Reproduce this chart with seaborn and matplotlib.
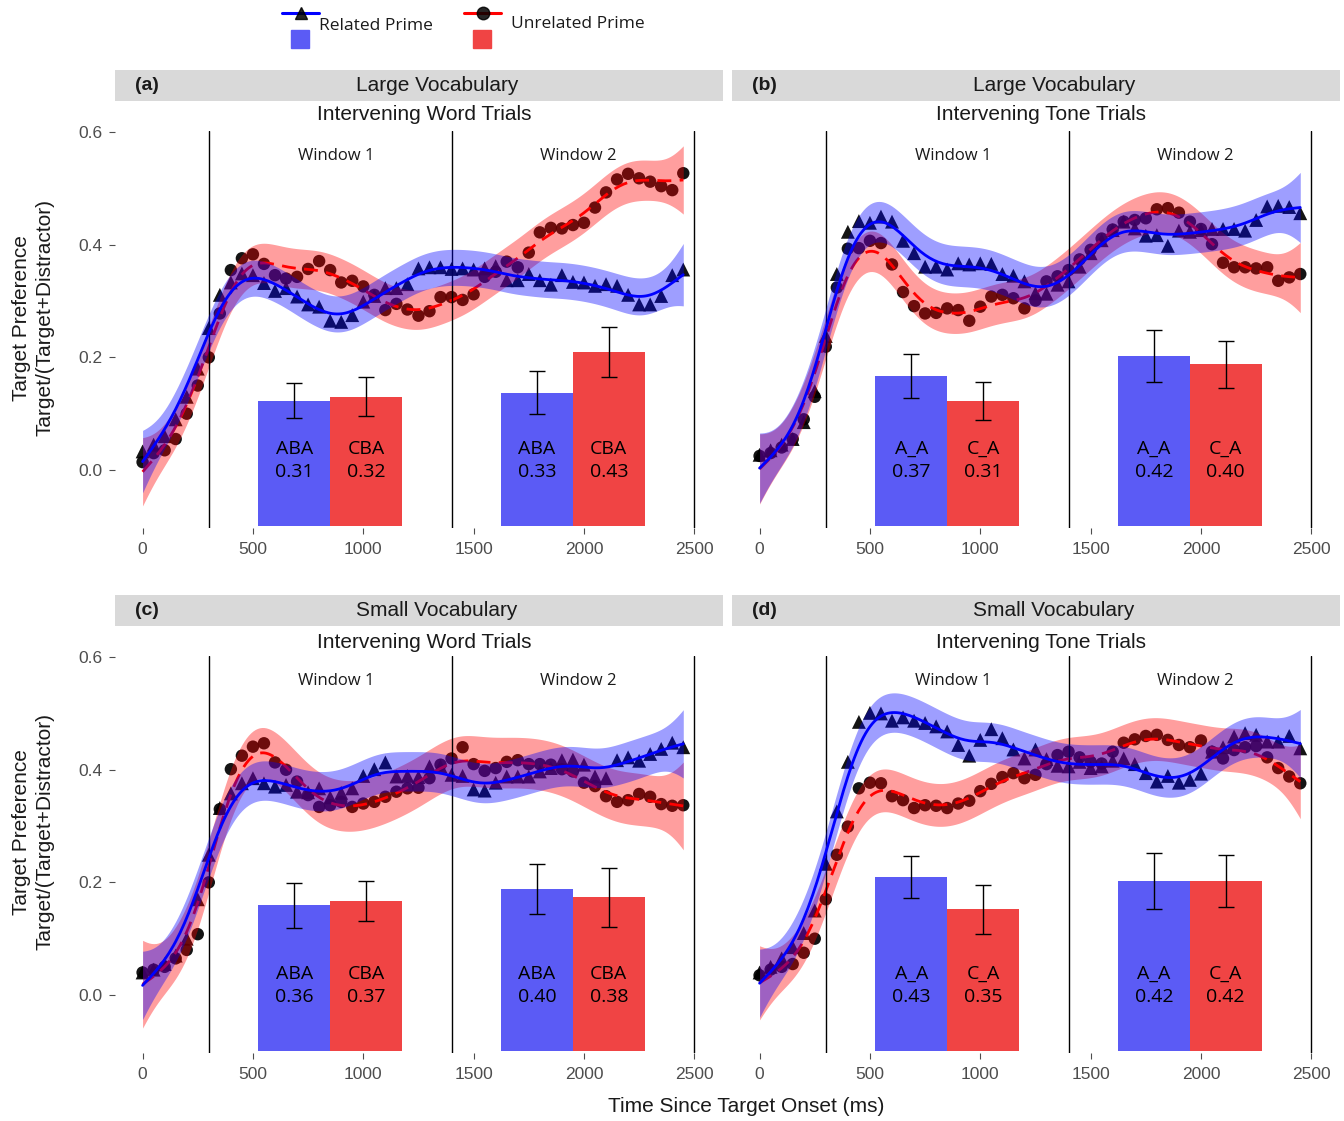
import numpy as np
import pandas as pd
import matplotlib
matplotlib.use("Agg")
import matplotlib.pyplot as plt
import seaborn as sns

# time bins (ms since target onset)
times = list(range(0, 2500, 50))

# (a) large vocabulary, intervening word trials
a_related = [0.033, 0.045, 0.06, 0.09, 0.13, 0.18, 0.252, 0.311, 0.333, 0.349,
             0.346, 0.332, 0.318, 0.323, 0.308, 0.294, 0.290, 0.265, 0.263, 0.275,
             0.299, 0.309, 0.323, 0.323, 0.330, 0.358, 0.360, 0.360, 0.357, 0.358,
             0.356, 0.358, 0.362, 0.337, 0.337, 0.348, 0.337, 0.329, 0.346, 0.334,
             0.333, 0.327, 0.330, 0.327, 0.311, 0.294, 0.294, 0.309, 0.346, 0.356]
a_unrelated = [0.014, 0.03, 0.035, 0.055, 0.10, 0.15, 0.200, 0.278, 0.355, 0.376,
               0.383, 0.366, 0.346, 0.340, 0.343, 0.357, 0.371, 0.355, 0.333, 0.336,
               0.326, 0.311, 0.284, 0.295, 0.285, 0.274, 0.282, 0.307, 0.307, 0.302,
               0.312, 0.343, 0.352, 0.370, 0.360, 0.386, 0.422, 0.430, 0.429, 0.435,
               0.439, 0.466, 0.493, 0.516, 0.526, 0.518, 0.512, 0.504, 0.497, 0.527]

# (b) large vocabulary, intervening tone trials
b_related = [0.027, 0.035, 0.045, 0.055, 0.085, 0.14, 0.238, 0.348, 0.423, 0.442,
             0.439, 0.450, 0.441, 0.407, 0.385, 0.361, 0.361, 0.356, 0.367, 0.365,
             0.367, 0.366, 0.348, 0.345, 0.335, 0.314, 0.313, 0.329, 0.335, 0.361,
             0.385, 0.408, 0.426, 0.441, 0.429, 0.416, 0.417, 0.398, 0.425, 0.423,
             0.426, 0.428, 0.428, 0.428, 0.425, 0.444, 0.468, 0.469, 0.467, 0.456]
b_unrelated = [0.025, 0.03, 0.04, 0.055, 0.09, 0.13, 0.219, 0.324, 0.393, 0.394,
               0.407, 0.403, 0.365, 0.316, 0.291, 0.278, 0.279, 0.287, 0.284, 0.265,
               0.290, 0.308, 0.311, 0.305, 0.287, 0.301, 0.335, 0.344, 0.355, 0.374,
               0.391, 0.411, 0.427, 0.441, 0.444, 0.447, 0.463, 0.465, 0.457, 0.441,
               0.428, 0.401, 0.368, 0.360, 0.360, 0.358, 0.360, 0.336, 0.342, 0.348]

# (c) small vocabulary, intervening word trials
c_related = [0.04, 0.045, 0.055, 0.07, 0.10, 0.17, 0.249, 0.332, 0.358, 0.376,
             0.385, 0.376, 0.370, 0.373, 0.361, 0.360, 0.367, 0.351, 0.359, 0.367,
             0.389, 0.401, 0.413, 0.388, 0.389, 0.387, 0.406, 0.406, 0.391, 0.389,
             0.365, 0.363, 0.377, 0.388, 0.388, 0.388, 0.397, 0.403, 0.417, 0.418,
             0.409, 0.388, 0.385, 0.417, 0.422, 0.416, 0.428, 0.437, 0.448, 0.440]
c_unrelated = [0.04, 0.045, 0.05, 0.065, 0.08, 0.108, 0.200, 0.330, 0.401, 0.425,
               0.441, 0.447, 0.413, 0.400, 0.379, 0.355, 0.334, 0.337, 0.343, 0.334,
               0.340, 0.343, 0.352, 0.361, 0.367, 0.368, 0.385, 0.409, 0.420, 0.440,
               0.410, 0.398, 0.403, 0.414, 0.417, 0.410, 0.410, 0.409, 0.401, 0.397,
               0.377, 0.371, 0.353, 0.343, 0.346, 0.357, 0.352, 0.339, 0.336, 0.337]

# (d) small vocabulary, intervening tone trials
d_related = [0.04, 0.05, 0.065, 0.085, 0.11, 0.15, 0.233, 0.326, 0.414, 0.485,
             0.501, 0.500, 0.487, 0.493, 0.487, 0.483, 0.477, 0.468, 0.444, 0.425,
             0.453, 0.472, 0.456, 0.436, 0.420, 0.436, 0.419, 0.407, 0.406, 0.414,
             0.403, 0.406, 0.416, 0.420, 0.410, 0.394, 0.379, 0.389, 0.377, 0.382,
             0.393, 0.432, 0.440, 0.459, 0.465, 0.462, 0.450, 0.450, 0.460, 0.438]
d_unrelated = [0.035, 0.045, 0.05, 0.055, 0.075, 0.10, 0.17, 0.249, 0.299, 0.367,
               0.377, 0.376, 0.353, 0.346, 0.332, 0.337, 0.336, 0.332, 0.340, 0.345,
               0.362, 0.375, 0.387, 0.394, 0.385, 0.391, 0.41, 0.426, 0.432, 0.422,
               0.414, 0.411, 0.432, 0.448, 0.454, 0.460, 0.462, 0.453, 0.444, 0.440,
               0.452, 0.432, 0.420, 0.435, 0.44, 0.442, 0.422, 0.403, 0.388, 0.376]

# confidence band half-width mid-series (related, unrelated)
ci_a = [0.032, 0.035]
ci_b = [0.036, 0.036]
ci_c = [0.035, 0.045]
ci_d = [0.035, 0.038]

# window means (related W1, unrelated W1, related W2, unrelated W2) and errors
bars_a = [0.31, 0.32, 0.33, 0.43]
errs_a = [0.043, 0.049, 0.053, 0.061]
bars_b = [0.37, 0.31, 0.42, 0.40]
errs_b = [0.054, 0.047, 0.064, 0.058]
bars_c = [0.36, 0.37, 0.40, 0.38]
errs_c = [0.055, 0.049, 0.062, 0.073]
bars_d = [0.43, 0.35, 0.42, 0.42]
errs_d = [0.051, 0.060, 0.069, 0.064]

word_conditions = ["ABA", "CBA"]
tone_conditions = ["A_A", "C_A"]
windows = [300, 1400, 2500]
window_names = ["Window 1", "Window 2"]

letters = ["(a)", "(b)", "(c)", "(d)"]
vocab = ["Large Vocabulary", "Large Vocabulary", "Small Vocabulary", "Small Vocabulary"]
trials = ["Intervening Word Trials", "Intervening Tone Trials",
          "Intervening Word Trials", "Intervening Tone Trials"]

BLUE = "#0000FF"
RED = "#FF0000"
BAR_BLUE = "#5B5BF5"
BAR_RED = "#F04444"

W, H = 1344, 1121
smooth_lambda = 7.0   # roughness penalty (per 50 ms sample)
bar_base = -0.1
bar_scale = 0.72
bar_width = 325


def smooth(t, y, step=10):
    # penalised (Whittaker) smoother evaluated on a fine grid
    t = np.asarray(t)
    y = np.asarray(y, dtype=float)
    grid = np.arange(t.min(), t.max() + step / 2, step)
    A = np.zeros((len(t), len(grid)))
    A[np.arange(len(t)), np.rint((t - grid[0]) / step).astype(int)] = 1.0
    D = np.diff(np.eye(len(grid)), n=2, axis=0)
    r = (t[1] - t[0]) / step
    M = np.linalg.inv(A.T @ A + smooth_lambda * r ** 3 * (D.T @ D))
    fit = M @ A.T @ y
    # relative standard error profile (widens towards the ends)
    shape = np.sqrt(np.clip(np.diag(M @ A.T @ A @ M), 0, None))
    return grid, fit, shape / np.median(shape)


def fig_rect(left, top, right, bottom):
    return [left / W, 1 - bottom / H, (right - left) / W, (bottom - top) / H]


def draw_panel(ax, related, unrelated, ci, bar_vals, bar_errs, conds):
    pts = pd.DataFrame({
        "time": times + times,
        "pref": related + unrelated,
        "prime": ["Related"] * len(times) + ["Unrelated"] * len(times),
    })
    sns.scatterplot(data=pts, x="time", y="pref", style="prime", size="prime",
                    markers={"Related": "^", "Unrelated": "o"},
                    sizes={"Related": 100, "Unrelated": 80},
                    color="black", linewidth=0, alpha=0.92,
                    legend=False, ax=ax, zorder=1)

    # unrelated first, related on top
    for vals, half, col, ls, z in [(unrelated, ci[1], RED, (0, (5, 3)), 2),
                                   (related, ci[0], BLUE, "-", 4)]:
        grid, fit, rel = smooth(times, vals)
        ax.fill_between(grid, fit - half * rel, fit + half * rel,
                        color=col, alpha=0.38, linewidth=0, zorder=z)
        sns.lineplot(x=grid, y=fit, color=col, linewidth=2.0, linestyle=ls,
                     ax=ax, zorder=z + 0.5)

    for w in windows:
        ax.axvline(w, color="black", linewidth=1.0, zorder=3)

    for i in range(2):
        w0, w1 = windows[i], windows[i + 1]
        mid = (w0 + w1) / 2
        ax.text(mid + 25, 0.557, window_names[i], ha="center", va="center",
                fontsize=12, family="Open Sans", color="#1a1a1a")
        for j, (col, side) in enumerate([(BAR_BLUE, -1), (BAR_RED, 1)]):
            v = bar_vals[2 * i + j]
            e = bar_errs[2 * i + j]
            xc = mid + side * bar_width / 2
            ax.bar(xc, v * bar_scale, bottom=bar_base, width=bar_width,
                   color=col, edgecolor="none", zorder=6)
            ax.errorbar(xc, bar_base + v * bar_scale, yerr=e * bar_scale,
                        color="black", linewidth=1.0, capsize=6, capthick=1.0,
                        zorder=7)
            ax.text(xc, bar_base + 0.117, f"{conds[j]}\n{v:.2f}", ha="center",
                    va="center", fontsize=14, family="Open Sans",
                    linespacing=1.4, color="black", zorder=8)

    ax.set_xlim(-125, 2630)
    ax.set_ylim(-0.103, 0.602)
    ax.set_xticks([0, 500, 1000, 1500, 2000, 2500])
    ax.set_yticks([0.0, 0.2, 0.4, 0.6])
    ax.set_yticklabels(["0.0", "0.2", "0.4", "0.6"])
    ax.set_xlabel("")
    ax.set_ylabel("")
    ax.tick_params(axis="both", bottom=True, left=True, length=4, width=0.8,
                   color="#4D4D4D", labelcolor="#4D4D4D", labelsize=12.5)
    ax.tick_params(axis="x", pad=6)
    ax.tick_params(axis="y", pad=5)
    for sp in ax.spines.values():
        sp.set_visible(False)


def main():
    sns.set_theme(style="white")
    plt.rcParams["font.family"] = ["Liberation Sans", "DejaVu Sans"]

    fig = plt.figure(figsize=(W / 100, H / 100), dpi=100)

    rects = [(115, 131, 723, 528), (732, 131, 1340, 528),
             (115, 656, 723, 1053), (732, 656, 1340, 1053)]
    strips = [(70, 101, 115), (70, 101, 115), (595, 626, 642), (595, 626, 642)]
    data = [(a_related, a_unrelated, ci_a, bars_a, errs_a, word_conditions),
            (b_related, b_unrelated, ci_b, bars_b, errs_b, tone_conditions),
            (c_related, c_unrelated, ci_c, bars_c, errs_c, word_conditions),
            (d_related, d_unrelated, ci_d, bars_d, errs_d, tone_conditions)]

    for k in range(4):
        left, top, right, bottom = rects[k]
        ax = fig.add_axes(fig_rect(left, top, right, bottom))
        draw_panel(ax, *data[k])
        if k in (1, 3):
            ax.tick_params(axis="y", left=False, labelleft=False)
        s_top, s_bot, sub_y = strips[k]
        sax = fig.add_axes(fig_rect(left, s_top, right, s_bot))
        sax.set_facecolor("#D9D9D9")
        sax.set_xticks([])
        sax.set_yticks([])
        for sp in sax.spines.values():
            sp.set_visible(False)
        sax.text(20 / (right - left), 0.5, letters[k], transform=sax.transAxes,
                 ha="left", va="center", fontsize=14, fontweight="bold",
                 color="#1a1a1a")
        sax.text(0.5 + 18 / (right - left), 0.5, vocab[k], transform=sax.transAxes,
                 ha="center", va="center", fontsize=15, color="#1a1a1a")
        fig.text((left + right) / 2 / W + 5 / W, 1 - sub_y / H, trials[k],
                 ha="center", va="center", fontsize=15, color="#1a1a1a")

    for yc in (318, 832):
        fig.text(33 / W, 1 - yc / H, "Target Preference\nTarget/(Target+Distractor)",
                 rotation=90, ha="center", va="center", fontsize=15,
                 color="#1a1a1a", linespacing=1.3)
    fig.text(746 / W, 1 - 1107 / H, "Time Since Target Onset (ms)",
             ha="center", va="center", fontsize=15, color="#1a1a1a")

    # legend drawn in pixel space at the top
    lax = fig.add_axes([0, 0, 1, 1], zorder=10)
    lax.set_xlim(0, W)
    lax.set_ylim(H, 0)
    lax.axis("off")
    lax.patch.set_alpha(0)
    for x0, col, mk, label, ty in [(282, BLUE, "^", "Related Prime", 26),
                                   (464, RED, "o", "Unrelated Prime", 24)]:
        lax.plot([x0, x0 + 37], [13, 13], color=col, linewidth=2.2)
        lax.plot([x0 + 18.5], [13], marker=mk, color="black", markersize=9,
                 alpha=0.85, linestyle="none")
        lax.add_patch(plt.Rectangle((x0 + 9, 30), 18, 18,
                                    color=BAR_BLUE if col == BLUE else BAR_RED))
        lax.text(x0 + 47 if col == RED else x0 + 37, ty, label, ha="left",
                 va="center", fontsize=12.5, family="Open Sans", color="#1a1a1a")

    fig.savefig("out.png", dpi=100)


if __name__ == "__main__":
    main()
